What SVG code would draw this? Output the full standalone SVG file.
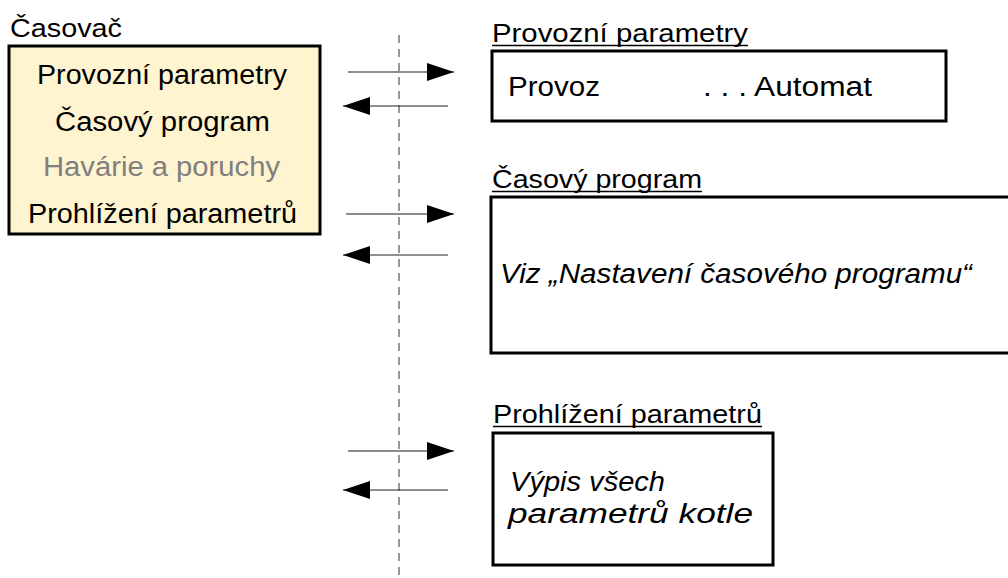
<svg xmlns="http://www.w3.org/2000/svg" width="1008" height="578" viewBox="0 0 1008 578">
<defs>
<marker id="ah" markerUnits="userSpaceOnUse" markerWidth="28" markerHeight="20" refX="27" refY="9" orient="auto">
<path d="M0,0 L27,9 L0,18 Z" fill="#000"/>
</marker>
<style>
text{font-family:"Liberation Sans",Arial,sans-serif;fill:#000}
.title{font-size:26px}
.menu{font-size:27px}
.body{font-size:27px}
.it{font-style:italic}
.box{fill:#fff;stroke:#000;stroke-width:3}
.ul{stroke:#000;stroke-width:1.5}
.fwd{stroke:#666;stroke-width:1.5;fill:none;marker-end:url(#ah)}
.back{stroke:#222;stroke-width:1.2;fill:none;marker-end:url(#ah)}
</style>
</defs>
<rect width="1008" height="578" fill="#fff"/>
<line x1="399" y1="35" x2="399" y2="578" stroke="#777" stroke-width="1.5" stroke-dasharray="8,6"/>

<g id="casovac">
<text class="title" x="10" y="37" textLength="112" lengthAdjust="spacingAndGlyphs">Časovač</text>
<rect x="9" y="46" width="311" height="188" fill="#FFF4D0" stroke="#000" stroke-width="3"/>
<text class="menu" x="37" y="84" textLength="250" lengthAdjust="spacingAndGlyphs">Provozní parametry</text>
<text class="menu" x="55" y="131" textLength="215" lengthAdjust="spacingAndGlyphs">Časový program</text>
<text class="menu" x="43" y="176" textLength="237" lengthAdjust="spacingAndGlyphs" style="fill:#808080">Havárie a poruchy</text>
<text class="menu" x="28" y="223" textLength="269" lengthAdjust="spacingAndGlyphs">Prohlížení parametrů</text>
</g>

<g id="provozni">
<text class="title" x="492" y="42" textLength="256" lengthAdjust="spacingAndGlyphs">Provozní parametry</text>
<line class="ul" x1="492" y1="45.5" x2="748" y2="45.5"/>
<rect class="box" x="492" y="51" width="454" height="70"/>
<text class="body" x="508" y="96" textLength="92" lengthAdjust="spacingAndGlyphs">Provoz</text>
<text class="body" x="703" y="96" textLength="169" lengthAdjust="spacingAndGlyphs">. . . Automat</text>
</g>

<g id="casovy">
<text class="title" x="492" y="188" textLength="210" lengthAdjust="spacingAndGlyphs">Časový program</text>
<line class="ul" x1="492" y1="191.5" x2="702" y2="191.5"/>
<rect class="box" x="491" y="197" width="530" height="156"/>
<text class="body it" x="500" y="283" textLength="472" lengthAdjust="spacingAndGlyphs">Viz „Nastavení časového programu“</text>
</g>

<g id="prohlizeni">
<text class="title" x="493" y="423" textLength="269" lengthAdjust="spacingAndGlyphs">Prohlížení parametrů</text>
<line class="ul" x1="493" y1="426.5" x2="762" y2="426.5"/>
<rect class="box" x="493" y="433" width="280" height="132"/>
<text class="body it" x="510" y="491" textLength="155" lengthAdjust="spacingAndGlyphs">Výpis všech</text>
<text class="body it" x="508" y="523" textLength="245" lengthAdjust="spacingAndGlyphs">parametrů kotle</text>
</g>

<g id="connectors">
<path class="fwd" d="M348,72 L454,72"/>
<path class="back" d="M448,106 L343,106"/>
<path class="fwd" d="M346,214 L454,214"/>
<path class="back" d="M448,255 L343,255"/>
<path class="fwd" d="M348,451 L454,451"/>
<path class="back" d="M448,490 L343,490"/>
</g>
</svg>
